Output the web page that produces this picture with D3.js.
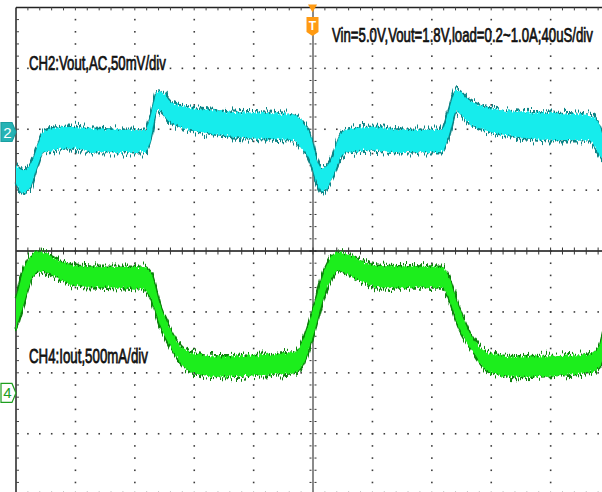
<!DOCTYPE html>
<html><head><meta charset="utf-8">
<script src="https://cdn.jsdelivr.net/npm/d3@7"></script>
<style>html,body{margin:0;padding:0;background:#fff;overflow:hidden}svg{display:block}</style>
</head><body>
<svg id="c" width="602" height="492"></svg>
<script>
// ---- data (time in µs, 40 µs/div) ----
// CH2: Vout AC ripple (mV), noise envelope upper / lower
const ch2Time  = [0,4.7,9.5,14.2,18.2,25,36.5,52,75,87.2,90.5,95.3,98.6,104,112.8,129,146.6,169.6,187.2,191.9,198.6,202.7,206.1,212.2,219,223,239.2,259.5,286.5,291.2,296.6,304.7,315.5,338.5,360.8,385.8,391.2,395.9];
const ch2Upper = [-27.3,-31.4,-27.3,-12.4,0,3.3,4.1,2.5,1.7,1.7,12.4,33.1,32.2,24.8,20.7,18.2,16.5,15.7,14.0,9.9,-4.1,-23.1,-29.8,-23.1,-0.8,1.7,4.1,1.7,1.7,16.5,34.7,26.4,20.7,16.5,15.7,14.0,9.9,-5.0];
const ch2Lower = [-42.1,-50.4,-45.5,-28.9,-17.4,-14.9,-13.2,-16.5,-16.5,-16.5,-6.6,18.2,15.7,8.3,3.3,-0.8,-4.1,-5.8,-6.6,-12.4,-25.6,-42.1,-49.6,-39.7,-20.7,-16.5,-14.9,-16.5,-16.5,-4.1,16.5,7.4,1.7,-4.1,-6.6,-6.6,-14.9,-25.6];
// CH4: Iout (A), noise envelope upper / lower
const ch4Time  = [0,4.7,11.5,16.2,29.7,41.2,56.8,85.8,90.5,97.3,104,110.8,117.6,135.8,169.6,187.2,191.9,200.7,207.4,216.9,232.4,243.9,286.5,291.2,298,306.8,318.2,335.8,385.8,392.6,395.9];
const ch4Upper = [0.769,0.992,1.140,1.157,1.083,1.041,1.033,1.033,0.992,0.711,0.521,0.380,0.331,0.298,0.314,0.331,0.397,0.711,0.992,1.157,1.083,1.041,1.033,0.959,0.711,0.463,0.331,0.298,0.314,0.380,0.521];
const ch4Lower = [0.521,0.711,0.959,1.000,0.934,0.876,0.868,0.851,0.785,0.545,0.380,0.248,0.174,0.132,0.149,0.165,0.206,0.496,0.793,1.000,0.917,0.868,0.868,0.785,0.545,0.355,0.174,0.132,0.165,0.207,0.314];
// labels
const ch2Label = "CH2:Vout,AC,50mV/div";
const ch4Label = "CH4:Iout,500mA/div";
const infoLabel = "Vin=5.0V,Vout=1.8V,load=0.2~1.0A;40uS/div";
const ch2Marker = "2", ch4Marker = "4", trigMarker = "T";
const ch2OffsetDiv = 1.954;   // CH2 ground marker, divisions above centre
const ch4OffsetDiv = -2.33;   // CH4 ground marker
const xDivs = 10, yDivs = 8, sub = 5;

// ---- scales ----
const svg = d3.select("#c");
const gx = d3.scaleLinear().domain([0, xDivs]).range([16, 610]);
const gy = d3.scaleLinear().domain([-yDivs/2, yDivs/2]).range([494.6, 7.4]);
const xT = d3.scaleLinear().domain([0, 400]).range([gx(0), gx(10)]);
const yV = d3.scaleLinear().domain([0, 50]).range([gy(ch2OffsetDiv), gy(ch2OffsetDiv + 1)]);
const yI = d3.scaleLinear().domain([0, 0.5]).range([gy(ch4OffsetDiv), gy(ch4OffsetDiv + 1)]);

// ---- filters for trace noise ----
const defs = svg.append("defs");
function fuzz(id, freq, scale, seed) {
  const f = defs.append("filter").attr("id", id).attr("x", "-2%").attr("y", "-30%").attr("width", "104%").attr("height", "160%");
  f.append("feTurbulence").attr("type", "fractalNoise").attr("baseFrequency", freq).attr("numOctaves", 2).attr("seed", seed).attr("result", "n");
  f.append("feColorMatrix").attr("in", "n").attr("type", "matrix")
    .attr("values", "0 0 0 0 0.5  0 1.6 0 0 -0.3  0 0 0 0 0  0 0 0 0 1").attr("result", "m");
  f.append("feDisplacementMap").attr("in", "SourceGraphic").attr("in2", "m").attr("scale", scale)
    .attr("xChannelSelector", "R").attr("yChannelSelector", "G");
}
fuzz("fzEdge", "0.9 0.03", 10, 4);
fuzz("fzFill", "0.7 0.03", 4, 9);

// ---- graticule ----
const grid = svg.append("g");
const dotC = "#3c3c3c";
for (let k = 1; k < yDivs; k++) {
  if (k === yDivs/2) continue;
  const y = gy(k - yDivs/2);
  for (let j = 1; j < xDivs*sub; j++)
    grid.append("rect").attr("x", gx(j/sub) - 0.75).attr("y", y - 0.75).attr("width", 1.6).attr("height", 1.6).attr("fill", dotC);
}
for (let k = 1; k < xDivs; k++) {
  if (k === xDivs/2) continue;
  const x = gx(k);
  for (let j = 1; j < yDivs*sub; j++)
    grid.append("rect").attr("x", x - 0.75).attr("y", gy(j/sub - yDivs/2) - 0.75).attr("width", 1.6).attr("height", 1.6).attr("fill", dotC);
}
// centre vertical (grey) with ticks
grid.append("line").attr("x1", gx(5)).attr("x2", gx(5)).attr("y1", gy(4)).attr("y2", gy(-4)).attr("stroke", "#8a8a8a").attr("stroke-width", 2);
for (let j = 1; j < yDivs*sub; j++) {
  const y = gy(j/sub - 4);
  grid.append("line").attr("x1", gx(5) - 3.5).attr("x2", gx(5) + 3.5).attr("y1", y).attr("y2", y).attr("stroke", "#333").attr("stroke-width", 1).attr("stroke-dasharray", "2,3");
}
// centre horizontal (black) with ticks
grid.append("line").attr("x1", gx(0)).attr("x2", gx(10)).attr("y1", gy(0)).attr("y2", gy(0)).attr("stroke", "#111").attr("stroke-width", 1.5);
for (let j = 1; j < xDivs*sub; j++) {
  const x = gx(j/sub);
  grid.append("line").attr("x1", x).attr("x2", x).attr("y1", gy(0) - 3.5).attr("y2", gy(0) + 3.5).attr("stroke", "#333").attr("stroke-width", 1);
}
// borders with ticks
grid.append("line").attr("x1", gx(0)).attr("x2", gx(0)).attr("y1", gy(4)).attr("y2", gy(-4)).attr("stroke", "#222").attr("stroke-width", 1.5);
grid.append("line").attr("x1", gx(0)).attr("x2", gx(10)).attr("y1", gy(4)).attr("y2", gy(4)).attr("stroke", "#222").attr("stroke-width", 1.5);
grid.append("line").attr("x1", gx(0)).attr("x2", gx(10)).attr("y1", gy(-4)).attr("y2", gy(-4)).attr("stroke", "#222").attr("stroke-width", 1.5);
for (let j = 1; j < yDivs*sub; j++) {
  const y = gy(j/sub - 4);
  grid.append("line").attr("x1", gx(0)).attr("x2", gx(0) + 3).attr("y1", y).attr("y2", y).attr("stroke", "#444");
}
for (let j = 1; j < xDivs*sub; j++) {
  const x = gx(j/sub);
  grid.append("line").attr("x1", x).attr("x2", x).attr("y1", gy(4)).attr("y2", gy(4) + 3).attr("stroke", "#444");
  grid.append("line").attr("x1", x).attr("x2", x).attr("y1", gy(-4)).attr("y2", gy(-4) - 3).attr("stroke", "#777");
}

// ---- traces ----
function trace(time, up, lo, ys, fill, edge) {
  const pts = time.map((t, i) => ({t, u: up[i], l: lo[i]}));
  const area = d3.area().x(d => xT(d.t)).y0(d => ys(d.l)).y1(d => ys(d.u)).curve(d3.curveMonotoneX);
  const lineU = d3.line().x(d => xT(d.t)).y(d => ys(d.u)).curve(d3.curveMonotoneX);
  const lineL = d3.line().x(d => xT(d.t)).y(d => ys(d.l)).curve(d3.curveMonotoneX);
  const g = svg.append("g");
  g.append("path").attr("d", lineU(pts)).attr("fill", "none").attr("stroke", edge).attr("stroke-width", 3).attr("filter", "url(#fzEdge)");
  g.append("path").attr("d", lineL(pts)).attr("fill", "none").attr("stroke", edge).attr("stroke-width", 3).attr("filter", "url(#fzEdge)");
  g.append("path").attr("d", area(pts)).attr("fill", fill).attr("filter", "url(#fzFill)");
}
trace(ch2Time, ch2Upper, ch2Lower, yV, "#12ecec", "#0f8486");
trace(ch4Time, ch4Upper, ch4Lower, yI, "#1fee1f", "#118211");

// ---- labels (condensed to the reference width) ----
const font = "'Liberation Sans Narrow','Arial Narrow','Liberation Sans',Arial,sans-serif";
function label(txt, x, y, w) {
  const t = svg.append("text").attr("x", 0).attr("y", 0).attr("font-family", font).attr("font-size", 20)
    .attr("fill", "#101010").attr("stroke", "#101010").attr("stroke-width", 0.75).text(txt);
  const nat = t.node().getComputedTextLength();
  const k = Math.min(1, w / nat);
  t.attr("transform", `translate(${x},${y}) scale(${k},1)`);
}
label(ch2Label, 29, 70, 137);
label(infoLabel, 332, 42, 261);
label(ch4Label, 29, 363, 119);

// ---- channel markers ----
function marker(yc, txt, fill, stroke, tcol) {
  const p = d3.path();
  p.moveTo(1, yc - 9.5); p.lineTo(12, yc - 9.5); p.lineTo(16, yc); p.lineTo(12, yc + 9.5); p.lineTo(1, yc + 9.5); p.closePath();
  svg.append("path").attr("d", p.toString()).attr("fill", fill).attr("stroke", stroke).attr("stroke-width", 1.2);
  svg.append("text").attr("x", 7.5).attr("y", yc + 5.5).attr("text-anchor", "middle").attr("font-family", "'Liberation Sans',Arial,sans-serif")
    .attr("font-size", 15).attr("fill", tcol).text(txt);
}
marker(yV(0), ch2Marker, "#26b3b5", "#1a9fa1", "#ffffff");
marker(yI(0), ch4Marker, "#ffffff", "#1e9e1e", "#1e9e1e");

// trigger marker
const tx = gx(5) - 0.5, orange = "#ff9a12";
const tri = d3.path();
tri.moveTo(tx - 4.5, 4.5); tri.lineTo(tx + 4.5, 4.5); tri.lineTo(tx, 12.5); tri.closePath();
svg.append("path").attr("d", tri.toString()).attr("fill", orange);
const tb = d3.path();
tb.moveTo(tx - 6, 17); tb.lineTo(tx + 6, 17); tb.lineTo(tx + 6, 32); tb.lineTo(tx, 36); tb.lineTo(tx - 6, 32); tb.closePath();
svg.append("path").attr("d", tb.toString()).attr("fill", orange);
svg.append("text").attr("x", tx).attr("y", 30).attr("text-anchor", "middle").attr("font-family", "'Liberation Sans',Arial,sans-serif")
  .attr("font-weight", "bold").attr("font-size", 12).attr("fill", "#fff").text(trigMarker);
</script>
</body></html>
